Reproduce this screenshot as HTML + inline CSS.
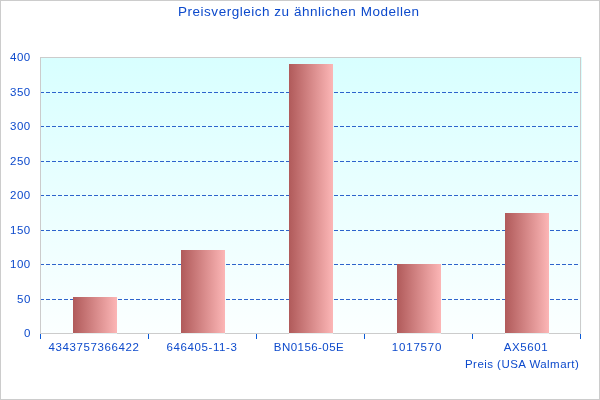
<!DOCTYPE html>
<html><head><meta charset="utf-8">
<style>
html,body{margin:0;padding:0;}
.t,.yl,.xl{will-change:transform;}
body{width:600px;height:400px;position:relative;overflow:hidden;background:#fff;font-family:"Liberation Sans",sans-serif;color:#0d4acc;}
#frame{position:absolute;left:0;top:0;width:598px;height:398px;border:1px solid #cccccc;}
svg{position:absolute;left:0;top:0;}
.t{position:absolute;white-space:nowrap;line-height:1;}
.yl{position:absolute;right:569px;font-size:11.5px;line-height:12px;letter-spacing:0.5px;white-space:nowrap;}
.xl{position:absolute;width:108px;text-align:center;top:341px;font-size:11.5px;line-height:12px;letter-spacing:0.6px;white-space:nowrap;}
</style></head><body>
<div id="frame"></div>
<svg width="600" height="400" viewBox="0 0 600 400">
<defs>
<linearGradient id="bg" x1="0" y1="0" x2="0" y2="1">
<stop offset="0" stop-color="#d8ffff"/>
<stop offset="1" stop-color="#fbffff"/>
</linearGradient>
<linearGradient id="bar" x1="0" y1="0" x2="1" y2="0">
<stop offset="0" stop-color="#b05a5a"/>
<stop offset="1" stop-color="#fcb6b6"/>
</linearGradient>
</defs>
<rect x="41" y="57" width="541" height="276" fill="url(#bg)"/>
<g stroke="#2d64cc" stroke-width="1" stroke-dasharray="4 2" fill="none">
<line x1="40" y1="92.5" x2="580" y2="92.5"/>
<line x1="40" y1="126.5" x2="580" y2="126.5"/>
<line x1="40" y1="161.5" x2="580" y2="161.5"/>
<line x1="40" y1="195.5" x2="580" y2="195.5"/>
<line x1="40" y1="230.5" x2="580" y2="230.5"/>
<line x1="40" y1="264.5" x2="580" y2="264.5"/>
<line x1="40" y1="299.5" x2="580" y2="299.5"/>
</g>
<rect x="40.5" y="57.5" width="540" height="276" fill="none" stroke="#cccccc" stroke-width="1"/>
<g fill="url(#bar)">
<rect x="73" y="297" width="44" height="36"/>
<rect x="181" y="250" width="44" height="83"/>
<rect x="289" y="64" width="44" height="269"/>
<rect x="397" y="264" width="44" height="69"/>
<rect x="505" y="213" width="44" height="120"/>
</g>
<g fill="#e5eeee">
<rect x="73" y="333" width="44" height="1"/>
<rect x="181" y="333" width="44" height="1"/>
<rect x="289" y="333" width="44" height="1"/>
<rect x="397" y="333" width="44" height="1"/>
<rect x="505" y="333" width="44" height="1"/>
</g>
<g stroke="#0b5bd7" stroke-width="1">
<line x1="40.5" y1="334" x2="40.5" y2="339"/>
<line x1="148.5" y1="334" x2="148.5" y2="339"/>
<line x1="256.5" y1="334" x2="256.5" y2="339"/>
<line x1="364.5" y1="334" x2="364.5" y2="339"/>
<line x1="472.5" y1="334" x2="472.5" y2="339"/>
<line x1="580.5" y1="334" x2="580.5" y2="339"/>
</g>
</svg>
<div class="t" id="title" style="left:178px;top:5px;font-size:13.5px;letter-spacing:0.52px;">Preisvergleich zu ähnlichen Modellen</div>
<div class="yl" style="top:51px">400</div>
<div class="yl" style="top:86px">350</div>
<div class="yl" style="top:120px">300</div>
<div class="yl" style="top:155px">250</div>
<div class="yl" style="top:189px">200</div>
<div class="yl" style="top:224px">150</div>
<div class="yl" style="top:258px">100</div>
<div class="yl" style="top:293px">50</div>
<div class="yl" style="top:327px">0</div>
<div class="xl" style="left:40px">4343757366422</div>
<div class="xl" style="left:148px">646405-11-3</div>
<div class="xl" style="left:255px;letter-spacing:0.45px">BN0156-05E</div>
<div class="xl" style="left:363px;letter-spacing:0.8px">1017570</div>
<div class="xl" style="left:472px">AX5601</div>
<div class="t" id="axt" style="right:20.5px;top:359px;font-size:11.5px;letter-spacing:0.45px;">Preis (USA Walmart)</div>
</body></html>
